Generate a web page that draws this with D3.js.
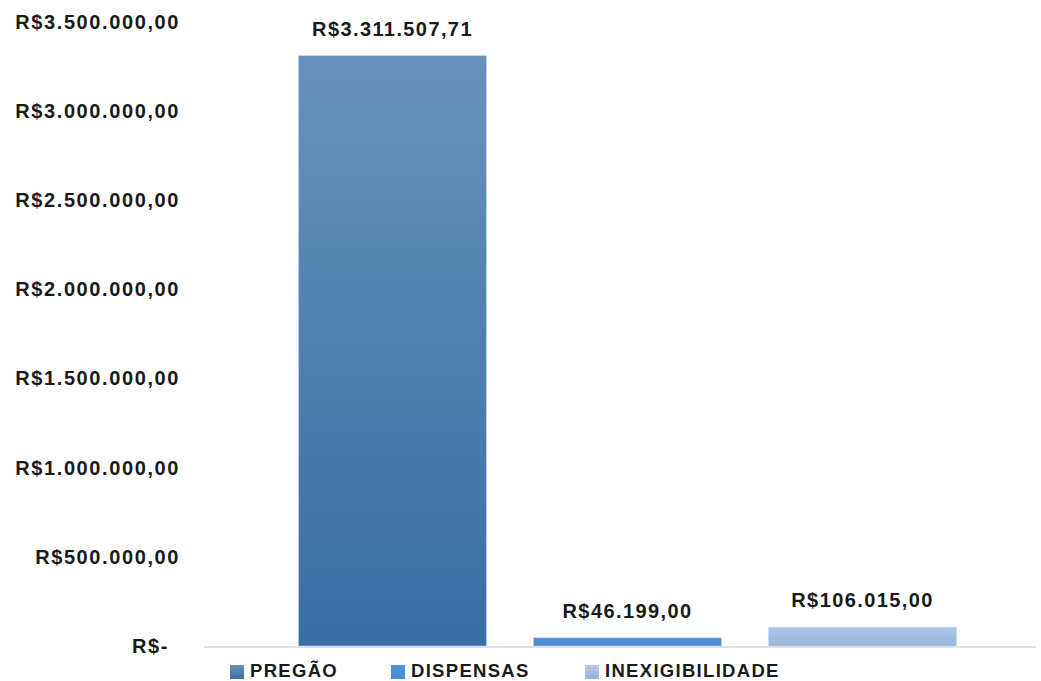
<!DOCTYPE html>
<html lang="pt">
<head>
<meta charset="UTF-8">
<title>Modalidades</title>
<script src="https://d3js.org/d3.v7.min.js"></script>
<style>
  body { margin: 0; background: #fff; }
  text { font-family: "Liberation Sans", Arial, sans-serif; font-weight: bold; fill: #1a1a1a; }
</style>
</head>
<body>
<div id="chart"></div>
<script>
const width = 1041;
const height = 681;

// data
const categories = ["PREGÃO", "DISPENSAS", "INEXIGIBILIDADE"];
const values = [3311507.71, 46199.00, 106015.00];
const tickValues = [0, 500000, 1000000, 1500000, 2000000, 2500000, 3000000, 3500000];

const topColors = ["#6892bc", "#4f92d6", "#adc8ea"];
const bottomColors = ["#376ea3", "#4a8cd0", "#98b4da"];

const svg = d3.select("#chart").append("svg")
    .attr("width", width)
    .attr("height", height);

const defs = svg.append("defs");
categories.forEach(function(c, i) {
  const g = defs.append("linearGradient")
    .attr("id", "grad" + i)
    .attr("x1", 0).attr("y1", 0).attr("x2", 0).attr("y2", 1);
  g.append("stop").attr("offset", "0%").attr("stop-color", topColors[i]);
  g.append("stop").attr("offset", "100%").attr("stop-color", bottomColors[i]);
});

const y = d3.scaleLinear()
    .domain([0, 3500000])
    .range([646, 22]);

const x = d3.scaleBand()
    .domain(categories)
    .range([275, 980])
    .paddingInner(0.2)
    .paddingOuter(0.1);

// brazilian currency format
const br = d3.formatLocale({
  decimal: ",", thousands: ".", grouping: [3], currency: ["R$", ""]
});
const fmt = br.format("$,.2f");
function money(v) { return v === 0 ? "R$-" : fmt(v); }

// y axis labels
const yAxis = d3.axisLeft(y)
    .tickValues(tickValues)
    .tickSize(0)
    .tickPadding(0)
    .tickFormat(money);

const ya = svg.append("g")
    .attr("transform", "translate(180,0)")
    .call(yAxis);
ya.select(".domain").remove();
ya.selectAll("text")
    .attr("font-size", 20)
    .attr("letter-spacing", 1.6)
    .attr("font-family", null)
    .attr("dx", function(d) { return d === 0 ? -11 : 0; });

// baseline
svg.append("line")
    .attr("x1", 204).attr("x2", 1036)
    .attr("y1", y(0) + 1).attr("y2", y(0) + 1)
    .attr("stroke", "#dde2e8")
    .attr("stroke-width", 2);

// bars
svg.selectAll("rect.bar")
  .data(values)
  .enter().append("rect")
    .attr("class", "bar")
    .attr("x", function(d, i) { return x(categories[i]); })
    .attr("width", x.bandwidth())
    .attr("y", function(d) { return y(d); })
    .attr("height", function(d) { return y(0) - y(d); })
    .attr("fill", function(d, i) { return "url(#grad" + i + ")"; })
    .attr("stroke", "#c9d8ea")
    .attr("stroke-width", 0.6);

// data labels
svg.selectAll("text.lbl")
  .data(values)
  .enter().append("text")
    .attr("class", "lbl")
    .attr("x", function(d, i) { return x(categories[i]) + x.bandwidth() / 2; })
    .attr("y", function(d) { return y(d) - 20; })
    .attr("text-anchor", "middle")
    .attr("font-size", 20)
    .attr("letter-spacing", 1.4)
    .text(function(d) { return fmt(d); });

// legend
const legendX = [230, 391, 585];
const legend = svg.append("g");
categories.forEach(function(c, i) {
  legend.append("rect")
    .attr("x", legendX[i]).attr("y", 665)
    .attr("width", 14).attr("height", 14)
    .attr("fill", "url(#grad" + i + ")");
  legend.append("text")
    .attr("x", legendX[i] + 20).attr("y", 677)
    .attr("font-size", 18.5)
    .attr("letter-spacing", 1.3)
    .text(c);
});
</script>
</body>
</html>
